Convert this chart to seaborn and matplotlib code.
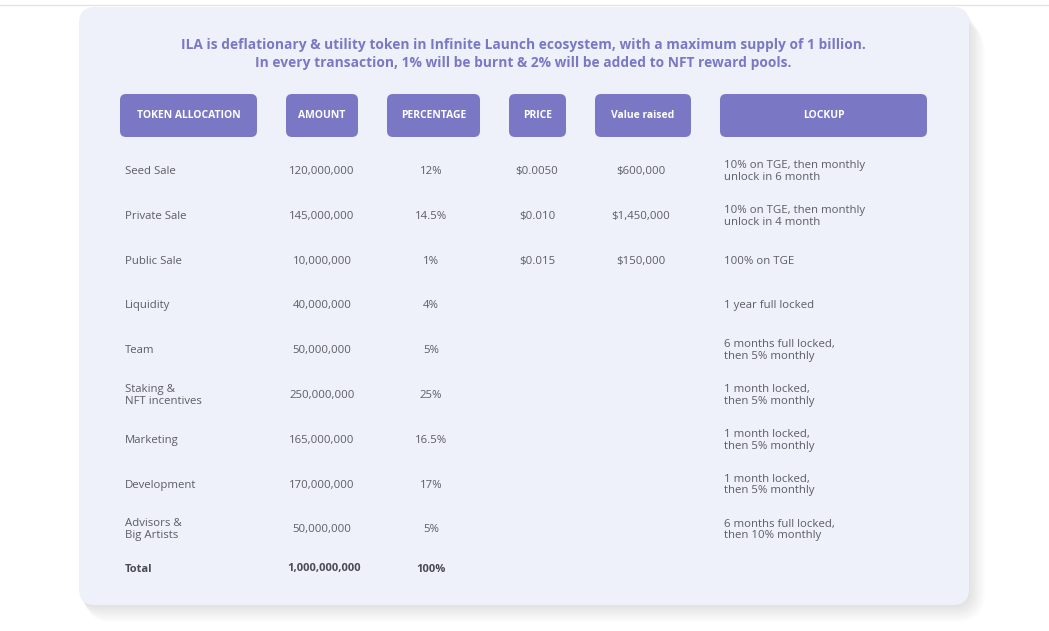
import matplotlib
matplotlib.use("Agg")
import matplotlib.pyplot as plt
import seaborn as sns
from matplotlib.patches import FancyBboxPatch

# table data
headers = ["TOKEN ALLOCATION", "AMOUNT", "PERCENTAGE", "PRICE", "Value raised", "LOCKUP"]
allocation = ["Seed Sale", "Private Sale", "Public Sale", "Liquidity", "Team",
              "Staking &\nNFT incentives", "Marketing", "Development",
              "Advisors &\nBig Artists"]
amount = ["120,000,000", "145,000,000", "10,000,000", "40,000,000", "50,000,000",
          "250,000,000", "165,000,000", "170,000,000", "50,000,000"]
percentage = ["12%", "14.5%", "1%", "4%", "5%", "25%", "16.5%", "17%", "5%"]
price = ["$0.0050", "$0.010", "$0.015", "", "", "", "", "", ""]
value_raised = ["$600,000", "$1,450,000", "$150,000", "", "", "", "", "", ""]
lockup = ["10% on TGE, then monthly\nunlock in 6 month",
          "10% on TGE, then monthly\nunlock in 4 month",
          "100% on TGE",
          "1 year full locked",
          "6 months full locked,\nthen 5% monthly",
          "1 month locked,\nthen 5% monthly",
          "1 month locked,\nthen 5% monthly",
          "1 month locked,\nthen 5% monthly",
          "6 months full locked,\nthen 10% monthly"]
total = ["Total", "1,000,000,000", "100%"]
title = ("ILA is deflationary & utility token in Infinite Launch ecosystem, with a maximum supply of 1 billion.\n"
         "In every transaction, 1% will be burnt & 2% will be added to NFT reward pools.")

sns.set_theme(style="white")
plt.rcParams["font.family"] = ["Open Sans", "DejaVu Sans"]

purple = "#7a78c5"
text_gray = "#5c5c68"
card_color = "#eef1f9"

fig = plt.figure(figsize=(10.49, 6.31), dpi=100)
ax = fig.add_axes([0, 0, 1, 1])
ax.set_xlim(0, 1049)
ax.set_ylim(631, 0)
ax.axis("off")

# thin line at top of page
ax.plot([0, 1049], [5, 5], color="#e2e4ea", lw=1)

# soft shadow under the card
for i in range(14):
    off = 2 + i * 1.5
    ax.add_patch(FancyBboxPatch((79 + off * 0.5 - i * 0.4, 7 + off * 0.8), 890 + i * 0.8, 598,
                                boxstyle="round,pad=0,rounding_size=%d" % (16 + i),
                                facecolor="#a0a0ae", edgecolor="none",
                                alpha=0.018, zorder=1))
ax.add_patch(FancyBboxPatch((79, 7), 890, 598, boxstyle="round,pad=0,rounding_size=16",
                            facecolor=card_color, edgecolor="none", zorder=2))

ax.text(523, 54, title, ha="center", va="center", color=purple, fontsize=9.9,
        fontweight="bold", linespacing=1.3, zorder=3)

# header boxes: (left, right) in px
col_edges = [(120, 257), (286, 358), (387, 480), (509, 566), (595, 691), (720, 927)]
for (x0, x1), h in zip(col_edges, headers):
    ax.add_patch(FancyBboxPatch((x0, 94), x1 - x0, 43, boxstyle="round,pad=0,rounding_size=6",
                                facecolor=purple, edgecolor="none", zorder=3))
    ax.text((x0 + x1) / 2, 116, h, ha="center", va="center", color="white",
            fontsize=7.5, fontweight="bold", zorder=4)

# rows
row_y0, row_step = 171.5, 44.8
x_alloc, x_amount, x_pct, x_price, x_value, x_lock = 125, 322, 431, 537, 641, 724
for i in range(len(allocation)):
    y = row_y0 + i * row_step
    kw = dict(va="center", color=text_gray, fontsize=8.2, linespacing=1.1, zorder=4)
    ax.text(x_alloc, y, allocation[i], ha="left", **kw)
    ax.text(x_amount, y, amount[i], ha="center", **kw)
    ax.text(x_pct, y, percentage[i], ha="center", **kw)
    ax.text(x_price, y, price[i], ha="center", **kw)
    ax.text(x_value, y, value_raised[i], ha="center", **kw)
    ax.text(x_lock, y, lockup[i], ha="left", **kw)

y_total = 569
kw = dict(va="center", color="#4a4a55", fontsize=8.0, fontweight="bold", zorder=4)
ax.text(x_alloc, y_total, total[0], ha="left", **kw)
ax.text(x_amount + 2, y_total, total[1], ha="center", **kw)
ax.text(x_pct, y_total, total[2], ha="center", **kw)

fig.savefig("out.png", dpi=100, facecolor="white")
